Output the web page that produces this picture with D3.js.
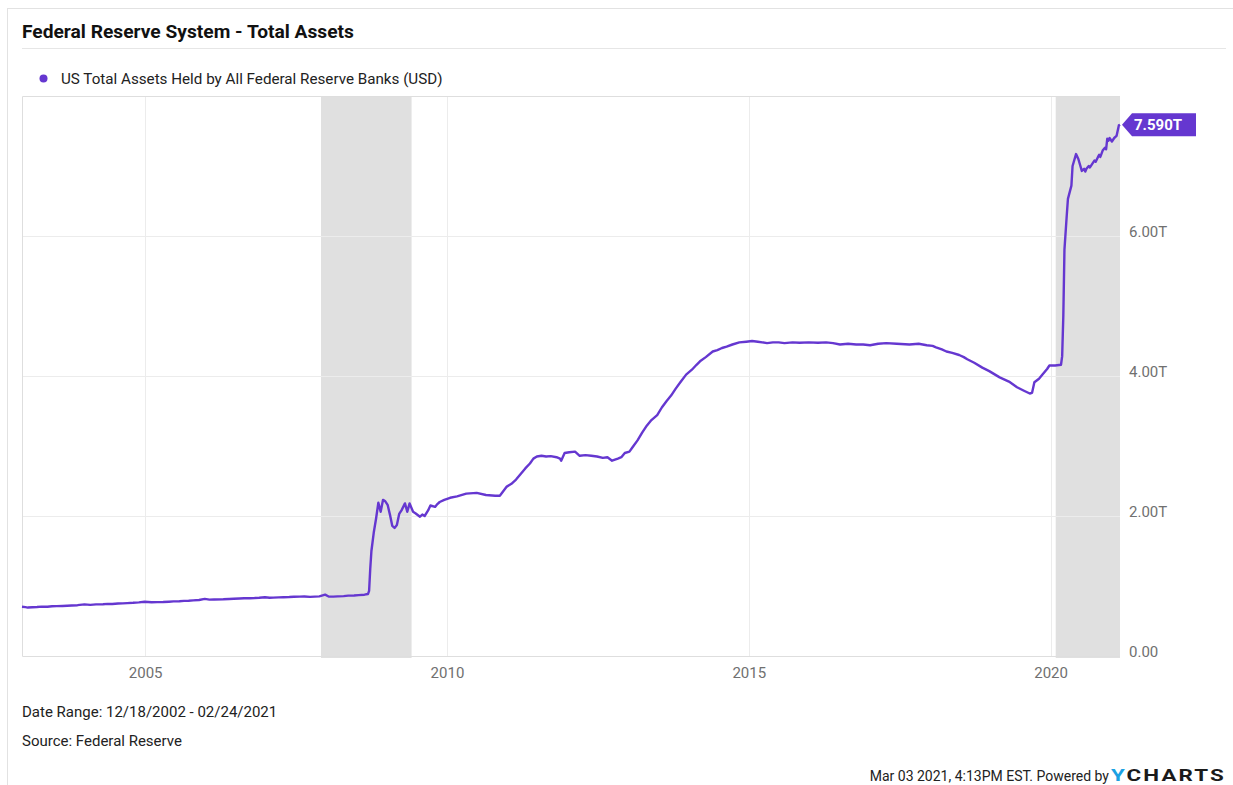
<!DOCTYPE html>
<html>
<head>
<meta charset="utf-8">
<script src="https://cdn.jsdelivr.net/npm/d3@7"></script>
<style>
  html, body { margin: 0; padding: 0; background: #ffffff; }
  svg { display: block; font-family: Roboto, "Noto Sans", sans-serif; }
</style>
</head>
<body>
<svg id="chart" width="1233" height="785"></svg>
<script>
// Weekly-ish readings of total assets held by all Federal Reserve Banks, in trillions of USD
const assetSeries = [
  ["2002-12-18", 0.703], ["2003-01-08", 0.698], ["2003-01-22", 0.692], ["2003-02-19", 0.697],
  ["2003-03-19", 0.700], ["2003-04-16", 0.706], ["2003-05-21", 0.703], ["2003-06-18", 0.710],
  ["2003-07-16", 0.712], ["2003-08-20", 0.715], ["2003-09-17", 0.718], ["2003-10-15", 0.722],
  ["2003-11-19", 0.726], ["2003-12-31", 0.738], ["2004-02-04", 0.730], ["2004-03-10", 0.737],
  ["2004-04-21", 0.740], ["2004-05-19", 0.744], ["2004-06-16", 0.742], ["2004-07-21", 0.750],
  ["2004-08-18", 0.752], ["2004-09-15", 0.756], ["2004-10-20", 0.760], ["2004-11-24", 0.766],
  ["2004-12-29", 0.775], ["2005-02-09", 0.768], ["2005-03-16", 0.770], ["2005-04-20", 0.772],
  ["2005-05-25", 0.776], ["2005-06-22", 0.780], ["2005-07-27", 0.783], ["2005-08-24", 0.788],
  ["2005-09-21", 0.790], ["2005-10-19", 0.794], ["2005-11-23", 0.800], ["2005-12-28", 0.816],
  ["2006-01-25", 0.806], ["2006-02-22", 0.808], ["2006-04-19", 0.810], ["2006-05-24", 0.815],
  ["2006-06-21", 0.818], ["2006-07-26", 0.821], ["2006-08-23", 0.824], ["2006-09-27", 0.826],
  ["2006-10-25", 0.828], ["2006-11-22", 0.832], ["2006-12-27", 0.840], ["2007-01-24", 0.832],
  ["2007-02-14", 0.834], ["2007-03-21", 0.837], ["2007-04-18", 0.840], ["2007-05-23", 0.842],
  ["2007-06-20", 0.846], ["2007-07-25", 0.848], ["2007-08-22", 0.850], ["2007-09-26", 0.845],
  ["2007-10-24", 0.848], ["2007-11-21", 0.852], ["2007-12-26", 0.876], ["2008-01-16", 0.850],
  ["2008-02-13", 0.848], ["2008-03-12", 0.852], ["2008-04-16", 0.856], ["2008-05-14", 0.862],
  ["2008-06-18", 0.865], ["2008-07-16", 0.870], ["2008-08-20", 0.876], ["2008-09-10", 0.885],
  ["2008-09-17", 0.930], ["2008-09-24", 1.250], ["2008-10-01", 1.500], ["2008-10-15", 1.760],
  ["2008-10-29", 1.960], ["2008-11-12", 2.190], ["2008-11-26", 2.060], ["2008-12-10", 2.230],
  ["2008-12-24", 2.210], ["2009-01-07", 2.160], ["2009-01-21", 2.020], ["2009-02-04", 1.860],
  ["2009-02-18", 1.830], ["2009-03-04", 1.870], ["2009-03-18", 2.030], ["2009-04-01", 2.080],
  ["2009-04-22", 2.180], ["2009-05-06", 2.060], ["2009-05-20", 2.180], ["2009-06-10", 2.060],
  ["2009-06-24", 2.040], ["2009-07-22", 1.990], ["2009-08-05", 2.020], ["2009-08-19", 2.000],
  ["2009-09-09", 2.080], ["2009-09-23", 2.150], ["2009-10-21", 2.130], ["2009-11-04", 2.170],
  ["2009-11-18", 2.200], ["2009-12-16", 2.230], ["2010-01-20", 2.260], ["2010-03-03", 2.280],
  ["2010-04-28", 2.320], ["2010-06-30", 2.330], ["2010-08-25", 2.300], ["2010-10-20", 2.290],
  ["2010-11-17", 2.290], ["2010-12-29", 2.420], ["2011-01-26", 2.460], ["2011-02-23", 2.520],
  ["2011-03-23", 2.600], ["2011-04-20", 2.680], ["2011-05-18", 2.750], ["2011-06-08", 2.820],
  ["2011-06-29", 2.850], ["2011-07-27", 2.860], ["2011-08-24", 2.850], ["2011-09-21", 2.855],
  ["2011-10-26", 2.840], ["2011-11-16", 2.820], ["2011-11-23", 2.790], ["2011-12-14", 2.900],
  ["2012-01-11", 2.910], ["2012-02-15", 2.920], ["2012-03-14", 2.860], ["2012-04-18", 2.870],
  ["2012-05-23", 2.860], ["2012-06-27", 2.850], ["2012-08-01", 2.830], ["2012-08-29", 2.840],
  ["2012-09-26", 2.790], ["2012-10-31", 2.820], ["2012-11-21", 2.840], ["2012-12-12", 2.900],
  ["2013-01-09", 2.920], ["2013-01-30", 2.990], ["2013-02-27", 3.080], ["2013-03-27", 3.190],
  ["2013-04-24", 3.290], ["2013-05-22", 3.370], ["2013-06-26", 3.440], ["2013-07-24", 3.550],
  ["2013-08-21", 3.640], ["2013-09-18", 3.720], ["2013-10-16", 3.820], ["2013-11-13", 3.910],
  ["2013-12-18", 4.020], ["2014-01-22", 4.090], ["2014-02-19", 4.160], ["2014-03-12", 4.210],
  ["2014-04-16", 4.270], ["2014-05-28", 4.350], ["2014-06-25", 4.370], ["2014-07-23", 4.400],
  ["2014-08-20", 4.420], ["2014-09-24", 4.450], ["2014-11-05", 4.480], ["2014-12-17", 4.490],
  ["2015-01-21", 4.500], ["2015-02-25", 4.490], ["2015-04-22", 4.470], ["2015-05-27", 4.480],
  ["2015-07-01", 4.480], ["2015-08-05", 4.470], ["2015-09-23", 4.480], ["2015-11-04", 4.475],
  ["2015-12-30", 4.480], ["2016-02-24", 4.475], ["2016-04-13", 4.480], ["2016-05-25", 4.470],
  ["2016-07-06", 4.450], ["2016-08-24", 4.460], ["2016-10-12", 4.450], ["2016-11-23", 4.450],
  ["2017-01-04", 4.440], ["2017-02-22", 4.460], ["2017-04-12", 4.470], ["2017-06-14", 4.460],
  ["2017-08-30", 4.450], ["2017-10-25", 4.460], ["2017-12-13", 4.440], ["2018-01-17", 4.430],
  ["2018-02-07", 4.410], ["2018-03-14", 4.380], ["2018-04-11", 4.350], ["2018-05-16", 4.330],
  ["2018-06-27", 4.300], ["2018-07-25", 4.270], ["2018-08-15", 4.240], ["2018-09-26", 4.190],
  ["2018-11-14", 4.120], ["2018-12-26", 4.070], ["2019-02-27", 3.980], ["2019-04-24", 3.920],
  ["2019-06-12", 3.840], ["2019-07-24", 3.790], ["2019-08-28", 3.750], ["2019-09-11", 3.760],
  ["2019-09-25", 3.910], ["2019-10-23", 3.960], ["2019-11-13", 4.020], ["2019-12-11", 4.100],
  ["2019-12-25", 4.150], ["2020-01-29", 4.150], ["2020-03-04", 4.160], ["2020-03-11", 4.280],
  ["2020-03-18", 4.850], ["2020-03-25", 5.810], ["2020-04-08", 6.300], ["2020-04-15", 6.530],
  ["2020-05-06", 6.720], ["2020-05-13", 7.000], ["2020-06-03", 7.170], ["2020-06-17", 7.100],
  ["2020-07-08", 6.930], ["2020-07-22", 6.960], ["2020-07-29", 6.920], ["2020-08-05", 6.960],
  ["2020-08-19", 7.000], ["2020-08-26", 6.980], ["2020-09-09", 7.030], ["2020-09-23", 7.080],
  ["2020-09-30", 7.060], ["2020-10-14", 7.130], ["2020-10-21", 7.160], ["2020-10-28", 7.130],
  ["2020-11-11", 7.220], ["2020-11-25", 7.260], ["2020-12-02", 7.240], ["2020-12-09", 7.390],
  ["2020-12-16", 7.360], ["2020-12-23", 7.400], ["2021-01-06", 7.350], ["2021-01-20", 7.400],
  ["2021-02-03", 7.430], ["2021-02-17", 7.580], ["2021-02-24", 7.590]
];

// Recession periods shaded behind the series
const recessions = [
  ["2007-12-01", "2009-06-01"],
  ["2020-02-01", "2021-02-24"]
];

const yearTicks = [2005, 2010, 2015, 2020];
const valueTicks = [0, 2, 4, 6];
const valueTickLabels = ["0.00", "2.00T", "4.00T", "6.00T"];

const titleText = "Federal Reserve System - Total Assets";
const seriesName = "US Total Assets Held by All Federal Reserve Banks (USD)";
const dateRangeText = "Date Range: 12/18/2002 - 02/24/2021";
const sourceText = "Source: Federal Reserve";
const stampText = "Mar 03 2021, 4:13PM EST. Powered by";

const parse = d3.timeParse("%Y-%m-%d");
const points = assetSeries.map(([d, v]) => ({ date: parse(d), value: v }));
const lineColor = "#6537d0";

const svg = d3.select("#chart");
const plot = { left: 22, right: 1120, top: 96, bottom: 656 };

const x = d3.scaleTime()
  .domain([parse("2002-12-18"), parse("2021-02-24")])
  .range([plot.left, plot.right]);
const y = d3.scaleLinear().domain([0, 8]).range([plot.bottom, plot.top]);

// Card frame
svg.append("line").attr("x1", 7.5).attr("x2", 7.5).attr("y1", 8).attr("y2", 785)
  .attr("stroke", "#e2e2e2");
svg.append("line").attr("x1", 7).attr("x2", 1233).attr("y1", 8.5).attr("y2", 8.5)
  .attr("stroke", "#e2e2e2");

// Title and divider
svg.append("text").attr("x", 22).attr("y", 38)
  .attr("font-size", 19.2).attr("font-weight", 700).attr("fill", "#111")
  .text(titleText);
svg.append("line").attr("x1", 22).attr("x2", 1226).attr("y1", 48.5).attr("y2", 48.5)
  .attr("stroke", "#e6e6e6");

// Legend
svg.append("circle").attr("cx", 43.5).attr("cy", 78.5).attr("r", 4).attr("fill", lineColor);
svg.append("text").attr("x", 61).attr("y", 84)
  .attr("font-size", 15.2).attr("fill", "#222").text(seriesName);

// Recession bands
svg.append("g").selectAll("rect").data(recessions).join("rect")
  .attr("x", d => x(parse(d[0])))
  .attr("width", d => x(parse(d[1])) - x(parse(d[0])))
  .attr("y", plot.top)
  .attr("height", plot.bottom - plot.top + 2)
  .attr("fill", "#e0e0e0");

// Gridlines
svg.append("g").selectAll("line").data(yearTicks).join("line")
  .attr("x1", d => Math.round(x(new Date(d, 0, 1))) + 0.5)
  .attr("x2", d => Math.round(x(new Date(d, 0, 1))) + 0.5)
  .attr("y1", plot.top).attr("y2", plot.bottom)
  .attr("stroke", "#ececec");
svg.append("g").selectAll("line").data(valueTicks.filter(v => v > 0)).join("line")
  .attr("x1", plot.left).attr("x2", plot.right)
  .attr("y1", d => Math.round(y(d)) + 0.5)
  .attr("y2", d => Math.round(y(d)) + 0.5)
  .attr("stroke", "#ececec");

// Plot border (left, top, bottom)
svg.append("path")
  .attr("d", `M${plot.right},${plot.top + 0.5}H${plot.left + 0.5}V${plot.bottom + 0.5}H${plot.right}`)
  .attr("fill", "none").attr("stroke", "#dedede");

// X axis labels
const xAxis = d3.axisBottom(x)
  .tickValues(yearTicks.map(yr => new Date(yr, 0, 1)))
  .tickFormat(d3.timeFormat("%Y"))
  .tickSize(0).tickPadding(0);
const gx = svg.append("g").attr("transform", `translate(0,${plot.bottom})`).call(xAxis);
gx.select(".domain").remove();
gx.selectAll("text")
  .attr("y", 21.5).attr("dy", null)
  .attr("font-family", "Roboto, sans-serif").attr("font-size", 15).attr("fill", "#707070");

// Y axis labels (right side, sitting on their gridlines)
const yAxis = d3.axisRight(y)
  .tickValues(valueTicks)
  .tickFormat((d, i) => valueTickLabels[i])
  .tickSize(0).tickPadding(0);
const gy = svg.append("g").attr("transform", `translate(1129,0)`).call(yAxis);
gy.select(".domain").remove();
gy.selectAll("text")
  .attr("x", 0).attr("dy", "0.05em")
  .attr("font-family", "Roboto, sans-serif").attr("font-size", 15).attr("fill", "#707070");

// Series line
const line = d3.line().x(d => x(d.date)).y(d => y(d.value)).curve(d3.curveLinear);
svg.append("path").datum(points)
  .attr("d", line)
  .attr("fill", "none").attr("stroke", lineColor)
  .attr("stroke-width", 2.4).attr("stroke-linejoin", "round");

// Last-value tag
const last = points[points.length - 1];
const tx = x(last.date) + 2, ty = y(last.value);
svg.append("path")
  .attr("d", `M${tx},${ty} L${tx + 10},${ty - 11.5} H${tx + 74} V${ty + 11.5} H${tx + 10} Z`)
  .attr("fill", lineColor);
svg.append("text").attr("x", tx + 12).attr("y", ty + 5.5)
  .attr("font-size", 15).attr("font-weight", 700).attr("fill", "#fff")
  .text(d3.format(".3f")(last.value) + "T");

// Footer notes
svg.append("text").attr("x", 22).attr("y", 717)
  .attr("font-size", 15).attr("fill", "#222").text(dateRangeText);
svg.append("text").attr("x", 22).attr("y", 746)
  .attr("font-size", 15).attr("fill", "#222").text(sourceText);

// Timestamp and brand mark
svg.append("text").attr("x", 1109).attr("y", 781).attr("text-anchor", "end")
  .attr("font-size", 14).attr("fill", "#222").text(stampText);
const brand = svg.append("text").attr("x", 1111).attr("y", 781)
  .attr("font-size", 16).attr("font-weight", 700).attr("letter-spacing", 1.5)
  .attr("textLength", 115).attr("lengthAdjust", "spacingAndGlyphs");
brand.append("tspan").attr("fill", "#1ba1e2").text("Y");
brand.append("tspan").attr("fill", "#1b1b1b").text("CHARTS");
</script>
</body>
</html>
